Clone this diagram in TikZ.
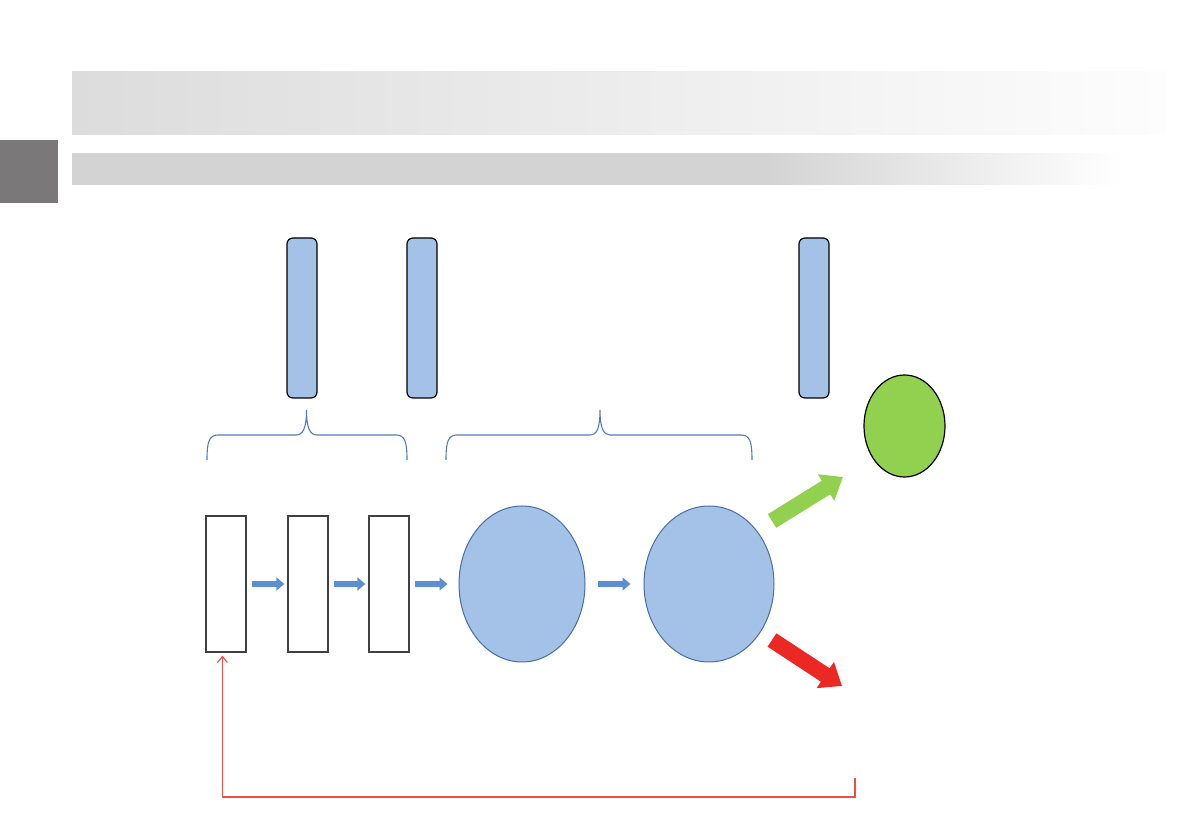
\documentclass[tikz,border=0pt]{standalone}
\usetikzlibrary{shapes.geometric,arrows.meta}
\definecolor{barblue}{RGB}{164,194,232}
\definecolor{edgeblue}{RGB}{70,110,160}
\definecolor{flowblue}{RGB}{91,143,208}
\definecolor{bracecol}{RGB}{80,125,185}
\definecolor{greenfill}{RGB}{146,208,80}
\definecolor{greenarr}{RGB}{146,208,80}
\definecolor{redarr}{RGB}{236,40,36}
\definecolor{redline}{RGB}{235,80,70}
\definecolor{sidegray}{RGB}{122,120,120}
\definecolor{hdrA}{RGB}{220,220,220}
\definecolor{hdrAend}{RGB}{253,253,253}
\definecolor{hdrB}{RGB}{211,211,211}
\pgfdeclarehorizontalshading{hdrshadeB}{100bp}{color(0bp)=(hdrB); color(25bp)=(hdrB); color(58bp)=(hdrB); color(75bp)=(white); color(100bp)=(white)}
\tikzset{
  vbar/.style={draw=black, fill=barblue, rounded corners=3pt, minimum width=15pt, minimum height=80pt, inner sep=0pt, line width=0.6pt},
  layer/.style={draw=black!75, fill=white, minimum width=20pt, minimum height=68pt, inner sep=0pt, line width=0.6pt},
  blob/.style={ellipse, draw=edgeblue, fill=barblue, inner sep=0pt, line width=0.5pt},
  flow/.style={draw=flowblue, line width=3pt, -{Triangle[length=4pt,width=6.5pt]}},
  bigarrow/.style={line width=8pt, -{Triangle[length=10pt,width=15pt]}},
  bracedec/.style={draw=bracecol, line width=0.55pt},
  fbline/.style={draw=redline, line width=0.6pt, -{Straight Barb[length=3pt,width=5pt]}}
}
\begin{document}
\begin{tikzpicture}[x=0.5pt,y=-0.5pt]
\useasboundingbox (0,0) rectangle (1191,839);
% header bands
\shade[left color=hdrA, right color=hdrAend] (72,72) rectangle (1166,135);
\shade[shading=hdrshadeB] (72,154) rectangle (1122,185);
\fill[sidegray] (0,140) rectangle (58,203);
% top vertical bars
\node[vbar] (v1) at (302,318) {};
\node[vbar] (v2) at (422,318) {};
\node[vbar] (v3) at (814,318) {};
% braces
\coordinate (b1l) at (207,460);
\coordinate (b1t) at (306.5,410);
\coordinate (b1r) at (407,460);
\coordinate (b2l) at (446,460);
\coordinate (b2t) at (600,410);
\coordinate (b2r) at (752,460);
\draw[bracedec] (b1l) .. controls (207,442) and (209,435) .. (218,435)
  -- (296,435) .. controls (303,435) and (306.5,428) .. (b1t)
  .. controls (306.5,428) and (310,435) .. (317,435)
  -- (396,435) .. controls (405,435) and (407,442) .. (b1r);
\draw[bracedec] (b2l) .. controls (446,442) and (448,435) .. (457,435)
  -- (590,435) .. controls (597,435) and (600,428) .. (b2t)
  .. controls (600,428) and (603.5,435) .. (610,435)
  -- (741,435) .. controls (750,435) and (752,442) .. (b2r);
% layers
\node[layer] (r1) at (226,584) {};
\node[layer] (r2) at (308,584) {};
\node[layer] (r3) at (389,584) {};
\node[blob, minimum width=63pt, minimum height=78pt] (e1) at (522,584) {};
\node[blob, minimum width=65pt, minimum height=78pt] (e2) at (709,584) {};
\node[ellipse, draw=black, fill=greenfill, inner sep=0pt, line width=0.6pt, minimum width=40.5pt, minimum height=51pt] (g) at (904.5,426) {};
% flow arrows
\draw[flow, shorten <=2.5pt, shorten >=1.5pt] (r1) -- (r2);
\draw[flow, shorten <=2.5pt, shorten >=1.5pt] (r2) -- (r3);
\draw[flow, shorten <=2.5pt, shorten >=5.5pt] (r3) -- (e1);
\draw[flow, shorten <=6pt, shorten >=6.5pt] (e1) -- (e2);
% output arrows
\coordinate (ga-s) at (772,521);
\coordinate (ga-e) at (843,477);
\coordinate (ra-s) at (772,640);
\coordinate (ra-e) at (842,686);
\draw[bigarrow, draw=greenarr, fill=greenarr] (ga-s) -- (ga-e);
\draw[bigarrow, draw=redarr, fill=redarr] (ra-s) -- (ra-e);
% feedback
\coordinate (fb-s) at (855,778);
\coordinate (fb-t) at (855,797);
\draw[fbline] (fb-s) -- (fb-t) -| ([xshift=-1.8pt,yshift=-1.5pt]r1.south);
\end{tikzpicture}
\end{document}
